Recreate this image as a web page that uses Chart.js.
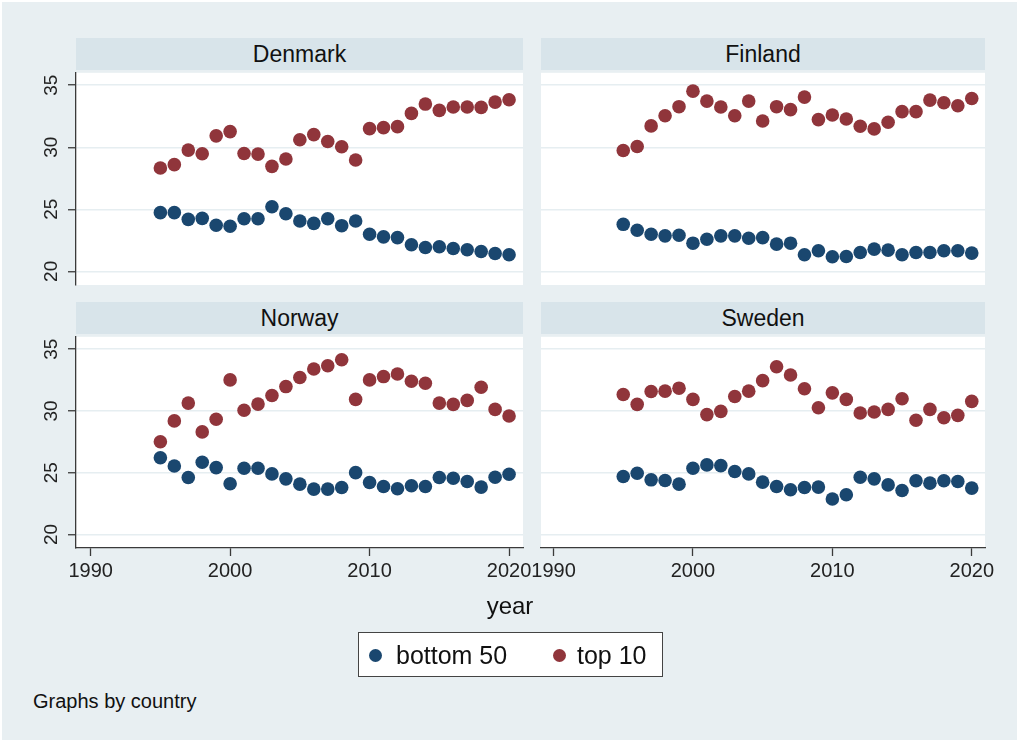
<!DOCTYPE html>
<html>
<head>
<meta charset="utf-8">
<script src="https://cdn.jsdelivr.net/npm/chart.js@4.4.1/dist/chart.umd.min.js"></script>
<style>
  html, body { margin: 0; padding: 0; background: #ffffff; }
  body { width: 1019px; height: 742px; position: relative; overflow: hidden;
         font-family: "Liberation Sans", Arial, Helvetica, sans-serif; color: #111; }
  #frame { position: absolute; left: 2px; top: 2px; width: 1015px; height: 738px; background: #e8eff2; }
  .strip { position: absolute; height: 32px; line-height: 33px; background: #d8e4ea;
           text-align: center; font-size: 23px; color: #111; }
  canvas { position: absolute; }
  #xtitle { position: absolute; left: 460px; width: 100px; top: 592px; text-align: center; font-size: 24px; }
  #legend { position: absolute; left: 358px; top: 632px; width: 303px; height: 43px;
            background: #fff; border: 1.5px solid #444; }
  .dot { position: absolute; width: 13px; height: 13px; border-radius: 50%; top: 16px; }
  .ltext { position: absolute; top: 8px; font-size: 25px; line-height: 28px; white-space: nowrap; }
  #note { position: absolute; left: 33px; top: 690px; font-size: 20px; white-space: nowrap; }
</style>
</head>
<body>
<div id="frame"></div>
<div id="panels"></div>
<div id="xtitle">year</div>
<div id="legend">
  <span class="dot" style="left:10px;background:#1a476f"></span>
  <span class="ltext" style="left:37px">bottom 50</span>
  <span class="dot" style="left:194px;background:#90353b"></span>
  <span class="ltext" style="left:218px">top 10</span>
</div>
<div id="note">Graphs by country</div>

<script>
// Income shares by year, 1995-2020
const years = [1995, 1996, 1997, 1998, 1999, 2000, 2001, 2002, 2003, 2004, 2005, 2006, 2007,
               2008, 2009, 2010, 2011, 2012, 2013, 2014, 2015, 2016, 2017, 2018, 2019, 2020];

const denmarkBottom50 = [24.73, 24.73, 24.19, 24.27, 23.71, 23.63, 24.24, 24.24, 25.21, 24.64, 24.06, 23.87, 24.24,
                         23.68, 24.06, 22.99, 22.78, 22.72, 22.14, 21.92, 21.98, 21.84, 21.74, 21.60, 21.44, 21.34];
const denmarkTop10    = [28.33, 28.60, 29.77, 29.48, 30.92, 31.26, 29.50, 29.45, 28.46, 29.05, 30.60, 31.02, 30.46,
                         30.04, 28.97, 31.50, 31.58, 31.66, 32.73, 33.48, 32.97, 33.24, 33.24, 33.21, 33.64, 33.83];

const finlandBottom50 = [23.79, 23.31, 22.99, 22.86, 22.91, 22.27, 22.59, 22.86, 22.86, 22.67, 22.72, 22.19, 22.27,
                         21.34, 21.66, 21.18, 21.20, 21.52, 21.79, 21.71, 21.34, 21.52, 21.52, 21.66, 21.66, 21.47];
const finlandTop10    = [29.74, 30.06, 31.72, 32.54, 33.27, 34.52, 33.72, 33.24, 32.54, 33.72, 32.12, 33.27, 33.03,
                         34.04, 32.23, 32.60, 32.28, 31.69, 31.48, 32.01, 32.87, 32.87, 33.80, 33.59, 33.35, 33.93];

const norwayBottom50  = [26.21, 25.54, 24.61, 25.84, 25.41, 24.10, 25.36, 25.36, 24.90, 24.50, 24.07, 23.67, 23.67,
                         23.80, 25.00, 24.20, 23.88, 23.70, 23.94, 23.88, 24.61, 24.55, 24.28, 23.83, 24.63, 24.87];
const norwayTop10     = [27.50, 29.19, 30.63, 28.30, 29.32, 32.51, 30.05, 30.55, 31.25, 31.97, 32.70, 33.39, 33.66,
                         34.14, 30.93, 32.51, 32.78, 32.99, 32.40, 32.24, 30.63, 30.53, 30.85, 31.92, 30.12, 29.59];

const swedenBottom50  = [24.69, 24.95, 24.42, 24.37, 24.07, 25.36, 25.63, 25.57, 25.09, 24.90, 24.23, 23.88, 23.62,
                         23.80, 23.83, 22.87, 23.21, 24.63, 24.50, 24.01, 23.56, 24.34, 24.15, 24.34, 24.28, 23.75];
const swedenTop10     = [31.33, 30.53, 31.57, 31.60, 31.84, 30.93, 29.70, 29.96, 31.17, 31.60, 32.45, 33.58, 32.91,
                         31.79, 30.26, 31.46, 30.93, 29.83, 29.91, 30.12, 30.98, 29.24, 30.12, 29.45, 29.64, 30.77];

const countries = ['Denmark', 'Finland', 'Norway', 'Sweden'];
const seriesNames = ['bottom 50', 'top 10'];
const yTickValues = [20, 25, 30, 35];
const xTickValues = [1990, 2000, 2010, 2020];

const bottomByCountry = { Denmark: denmarkBottom50, Finland: finlandBottom50, Norway: norwayBottom50, Sweden: swedenBottom50 };
const topByCountry    = { Denmark: denmarkTop10,    Finland: finlandTop10,    Norway: norwayTop10,    Sweden: swedenTop10 };

// Panel geometry: plot rectangle of each panel on the page
const panelBoxes = {
  Denmark: { left: 76,  top: 71,  width: 447, height: 214, yAxis: true,  xAxis: false, xMin: 1988.95, xMax: 2021.0 },
  Finland: { left: 541, top: 71,  width: 444, height: 214, yAxis: false, xAxis: false, xMin: 1989.1,  xMax: 2020.95 },
  Norway:  { left: 76,  top: 335, width: 447, height: 213, yAxis: true,  xAxis: true,  xMin: 1988.95, xMax: 2021.0 },
  Sweden:  { left: 541, top: 335, width: 444, height: 213, yAxis: false, xAxis: true,  xMin: 1989.1,  xMax: 2020.95 }
};

const BLUE = '#1a476f';
const RED = '#90353b';
const AXIS = '#3a3a3a';
const GRID = '#e6eef1';
const FONT = '"Liberation Sans", Arial, Helvetica, sans-serif';

const PAD_L = 70, PAD_T = 5, PAD_R = 30, PAD_B = 45;
const Y_W = 10, X_H = 40;

// White plot region and rotated y tick labels
const panelDecor = {
  id: 'panelDecor',
  beforeDraw(chart) {
    const a = chart.chartArea, ctx = chart.ctx;
    ctx.save();
    ctx.fillStyle = '#ffffff';
    ctx.fillRect(a.left, a.top, a.right - a.left, a.bottom - a.top);
    ctx.restore();
  },
  afterDraw(chart, args, opts) {
    if (!opts.yLabels) return;
    const s = chart.scales.y, ctx = chart.ctx;
    ctx.save();
    ctx.font = '19px ' + FONT;
    ctx.fillStyle = '#222';
    ctx.textAlign = 'center';
    ctx.textBaseline = 'middle';
    yTickValues.forEach(v => {
      ctx.save();
      ctx.translate(chart.chartArea.left - 24, s.getPixelForValue(v));
      ctx.rotate(-Math.PI / 2);
      ctx.fillText(String(v), 0, 0);
      ctx.restore();
    });
    ctx.restore();
  }
};

const host = document.getElementById('panels');

countries.forEach(name => {
  const b = panelBoxes[name];

  const strip = document.createElement('div');
  strip.className = 'strip';
  strip.style.left = b.left + 'px';
  strip.style.width = b.width + 'px';
  strip.style.top = (b.top - 33) + 'px';
  strip.textContent = name;
  host.appendChild(strip);

  const cv = document.createElement('canvas');
  const cw = b.width + PAD_L + PAD_R, ch = b.height + PAD_T + PAD_B;
  cv.width = cw; cv.height = ch;
  cv.style.width = cw + 'px'; cv.style.height = ch + 'px';
  cv.style.left = (b.left - PAD_L) + 'px';
  cv.style.top = (b.top - PAD_T) + 'px';
  host.appendChild(cv);

  const toPoints = vals => years.map((yr, i) => ({ x: yr, y: vals[i] }));

  new Chart(cv.getContext('2d'), {
    type: 'scatter',
    data: {
      datasets: [
        { label: seriesNames[0], data: toPoints(bottomByCountry[name]),
          backgroundColor: BLUE, borderColor: BLUE, borderWidth: 0, pointRadius: 6.8, pointHoverRadius: 6.8 },
        { label: seriesNames[1], data: toPoints(topByCountry[name]),
          backgroundColor: RED, borderColor: RED, borderWidth: 0, pointRadius: 6.8, pointHoverRadius: 6.8 }
      ]
    },
    options: {
      responsive: false,
      animation: false,
      devicePixelRatio: 1,
      events: [],
      layout: { padding: { left: PAD_L - Y_W, top: PAD_T, right: PAD_R, bottom: PAD_B - X_H } },
      plugins: {
        legend: { display: false },
        tooltip: { enabled: false },
        panelDecor: { yLabels: b.yAxis }
      },
      scales: {
        x: {
          type: 'linear',
          min: b.xMin, max: b.xMax,
          afterBuildTicks: s => { s.ticks = xTickValues.map(v => ({ value: v })); },
          afterFit: s => { s.height = X_H; },
          grid: { display: b.xAxis, drawOnChartArea: false, drawTicks: true, tickLength: 8,
                  tickColor: AXIS, tickWidth: 1.3 },
          border: { display: b.xAxis, color: AXIS, width: 1.3 },
          ticks: { display: b.xAxis, padding: 3, color: '#222', font: { size: 20, family: FONT },
                   maxRotation: 0, minRotation: 0, autoSkip: false, callback: v => String(v) }
        },
        y: {
          type: 'linear',
          min: 18.9, max: 36.0,
          afterBuildTicks: s => { s.ticks = yTickValues.map(v => ({ value: v })); },
          afterFit: s => { s.width = Y_W; },
          grid: { display: true, drawOnChartArea: true, color: GRID, lineWidth: 1.5,
                  drawTicks: true, tickLength: 8, tickColor: b.yAxis ? AXIS : 'rgba(0,0,0,0)', tickWidth: 1.3 },
          border: { display: b.yAxis, color: AXIS, width: 1.3 },
          ticks: { display: false }
        }
      }
    },
    plugins: [panelDecor]
  });
});
</script>
</body>
</html>
